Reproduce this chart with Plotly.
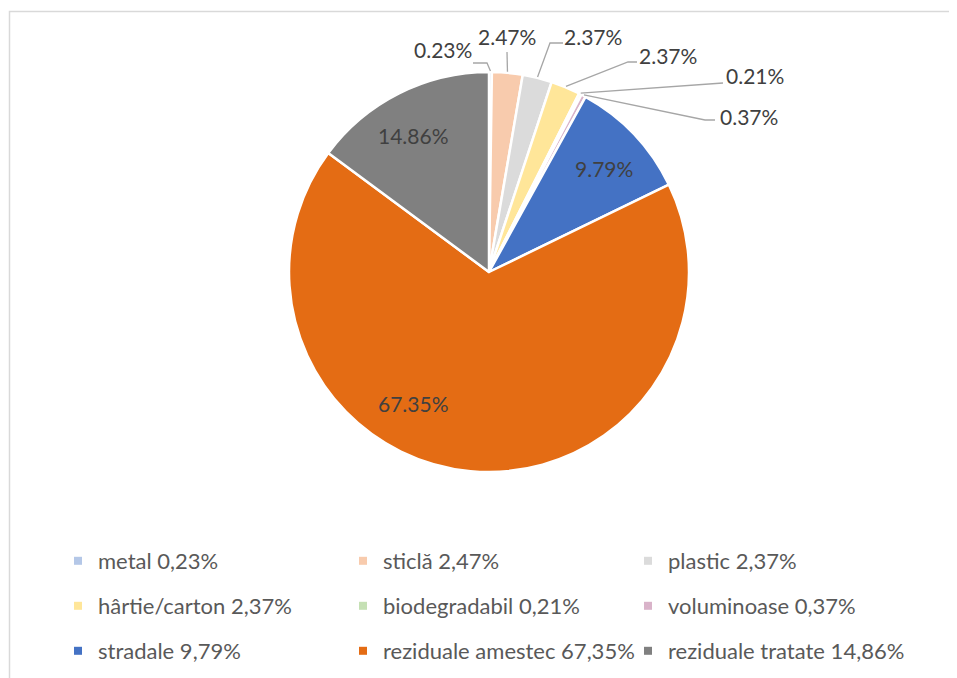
import math
import plotly.graph_objects as go

W, H = 957, 678
OFF = 8  # page body margin of the html page

# ---- data ----
categories = ["metal", "sticlă", "plastic", "hârtie/carton", "biodegradabil",
              "voluminoase", "stradale", "reziduale amestec", "reziduale tratate"]
shares = [0.23, 2.47, 2.37, 2.37, 0.21, 0.37, 9.79, 67.35, 14.86]
slice_labels = ["0.23%", "2.47%", "2.37%", "2.37%", "0.21%", "0.37%", "9.79%", "67.35%", "14.86%"]
legend_labels = ["metal 0,23%", "sticlă 2,47%", "plastic 2,37%", "hârtie/carton 2,37%",
                 "biodegradabil 0,21%", "voluminoase 0,37%", "stradale 9,79%",
                 "reziduale amestec 67,35%", "reziduale tratate 14,86%"]

# ---- styles / layout ----
colors = ["#B4C7E7", "#F8CBAD", "#DBDBDB", "#FFE699", "#C5E0B4", "#D9B3C9",
          "#4472C4", "#E46C14", "#808080"]
FONT = "Lato"
CX, CY, R = 489, 272, 200

def px(x):
    return (x - OFF) / W

def py(y):
    return 1 - (y - OFF) / H

# label positions in screen pixels (text centre), per slice
label_pos = [(443, 50), (507, 37), (593, 37), (668, 55), (755, 76), (749, 116),
             (604, 168), (413, 403), (413, 135)]
# leader line bends/ends for outside labels (None = inside label)
leader = [[(487, 63), (473, 63)], [(507, 52)], [(550, 43), (563, 43)],
          [(628, 62), (637, 62)], [(723, 83)], [(705, 120), (715, 120)],
          None, None, None]

fig = go.Figure()
fig.add_trace(go.Pie(
    labels=categories, values=shares, sort=False, direction="clockwise", rotation=0,
    marker=dict(colors=colors, line=dict(color="white", width=2.5)),
    textinfo="none", showlegend=False,
    domain=dict(x=[px(CX - R), px(CX + R)], y=[py(CY + R), py(CY - R)]),
))

total = sum(shares)
cum = 0
shapes = []
annotations = []
for i, v in enumerate(shares):
    mid = (cum + v / 2) / total * 2 * math.pi
    cum += v
    lx, ly = label_pos[i]
    annotations.append(dict(
        x=px(lx), y=py(ly), xref="paper", yref="paper", text=slice_labels[i],
        showarrow=False, xanchor="center", yanchor="middle",
        font=dict(family=FONT, size=21, color="#404040"),
    ))
    if leader[i] is not None:
        sx = CX + (R + 1) * math.sin(mid)
        sy = CY - (R + 1) * math.cos(mid)
        pts = [(sx, sy)] + leader[i]
        path = "M" + " L".join(f"{px(a)},{py(b)}" for a, b in pts)
        shapes.append(dict(type="path", xref="paper", yref="paper", path=path,
                           line=dict(color="#A6A6A6", width=1.3)))

# chart frame
shapes.append(dict(type="rect", xref="paper", yref="paper",
                   x0=px(9.5), x1=px(W + 20), y0=py(H + 20), y1=py(11.5),
                   line=dict(color="#D9D9D9", width=1.5), layer="below"))

# legend rows built from the same data, three entries per row
legend_names = ["legend", "legend2", "legend3"]
for i, name in enumerate(legend_labels):
    fig.add_trace(go.Scatter(
        x=[None], y=[None], mode="markers", name=name,
        marker=dict(symbol="square", size=8, color=colors[i]),
        legend=legend_names[i // 3], showlegend=True, hoverinfo="skip",
    ))

row_y = [561, 606, 651]
leg_common = dict(orientation="h", xanchor="left", yanchor="middle",
                  x=px(58), entrywidth=240, entrywidthmode="pixels",
                  font=dict(family=FONT, size=22, color="#595959"),
                  bgcolor="rgba(0,0,0,0)", itemwidth=30, tracegroupgap=0)
layout_leg = {}
for k, nm in enumerate(legend_names):
    layout_leg[nm] = dict(leg_common, y=py(row_y[k]))

fig.update_layout(
    width=W, height=H, margin=dict(l=0, r=0, t=0, b=0),
    paper_bgcolor="white", plot_bgcolor="white",
    xaxis=dict(visible=False), yaxis=dict(visible=False),
    shapes=shapes, annotations=annotations,
    **layout_leg,
)
fig.write_html("out.html")
